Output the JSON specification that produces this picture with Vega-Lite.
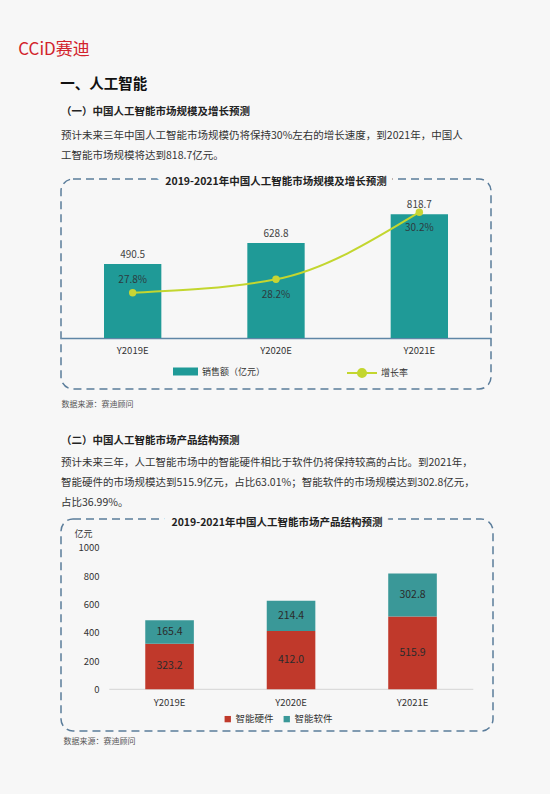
{
  "$schema": "https://vega.github.io/schema/vega-lite/v6.json",
  "background": "#f7f7f7",
  "padding": {"left": 18, "top": 40, "right": 60, "bottom": 60},
  "config": {
    "font": "Noto Sans CJK SC",
    "view": {"stroke": "#5b7d9b", "strokeDash": [8, 5], "strokeWidth": 1.5, "cornerRadius": 12},
    "axis": {"labelFont": "Noto Sans CJK SC", "titleFont": "Noto Sans CJK SC"},
    "legend": {"labelFont": "Noto Sans CJK SC"},
    "title": {"font": "Noto Sans CJK SC", "subtitleFont": "Noto Sans CJK SC"}
  },
  "title": {"text": "CCiD赛迪", "anchor": "start", "dx": -42, "fontSize": 17, "fontWeight": "normal", "color": "#d2232c", "offset": 18},
  "vconcat": [
    {
      "title": {"text": "一、人工智能", "anchor": "start", "fontSize": 14.5, "fontWeight": "bold", "color": "#111111", "offset": 14},
      "spacing": 26,
      "vconcat": [
        {
          "width": 430,
          "height": 210,
          "title": {
            "text": "（一）中国人工智能市场规模及增长预测",
            "subtitle": ["预计未来三年中国人工智能市场规模仍将保持30%左右的增长速度，到2021年，中国人", "工智能市场规模将达到818.7亿元。"],
            "anchor": "start", "fontSize": 10.5, "fontWeight": "bold", "color": "#222222",
            "subtitleFontSize": 10.5, "subtitleColor": "#333333", "subtitleLineHeight": 20, "subtitlePadding": 13, "offset": 16
          },
          "data": {"values": [
            {"year": "Y2019E", "sales": 490.5, "growth": 0.278},
            {"year": "Y2020E", "sales": 628.8, "growth": 0.282},
            {"year": "Y2021E", "sales": 818.7, "growth": 0.302}
          ]},
          "encoding": {
            "x": {"field": "year", "type": "nominal", "scale": {"paddingInner": 0.6, "paddingOuter": 0.3},
              "axis": {"offset": -51, "domainColor": "#5f86a6", "domainWidth": 1.3, "ticks": false, "labelAngle": 0, "labelFontSize": 9.5, "labelColor": "#333333", "labelPadding": 7,
                "title": "数据来源：赛迪顾问", "titleFontSize": 8, "titleFontWeight": "normal", "titleColor": "#555555", "titleX": 0, "titleY": 66, "titleAlign": "left", "titleBaseline": "middle"}}
          },
          "layer": [
            {
              "layer": [
                {
                  "mark": {"type": "bar"},
                  "encoding": {
                    "y": {"field": "sales", "type": "quantitative", "scale": {"domain": [-338, 1053], "nice": false}, "axis": null},
                    "fill": {"datum": "销售额（亿元）", "scale": {"range": ["#1f9a97"]},
                      "legend": {"orient": "none", "legendX": 112, "legendY": 180, "title": null, "symbolType": "M-1,-0.32H1V0.32H-1Z", "symbolSize": 625, "symbolStrokeWidth": 0, "labelFontSize": 9, "labelColor": "#333333", "labelOffset": 4}}
                  }
                },
                {
                  "mark": {"type": "text", "dy": -9, "fontSize": 10, "color": "#444444"},
                  "encoding": {
                    "y": {"field": "sales", "type": "quantitative"},
                    "text": {"field": "sales", "type": "quantitative", "format": ".1f"}
                  }
                },
                {
                  "data": {"values": [{"t": "2019-2021年中国人工智能市场规模及增长预测"}]},
                  "mark": {"type": "text", "fontSize": 10.5, "fontWeight": "bold", "stroke": "#f7f7f7", "strokeWidth": 12, "fill": "#f7f7f7", "baseline": "middle", "dy": 3},
                  "encoding": {"x": {"datum": "Y2020E"}, "y": {"datum": 1053}, "text": {"field": "t"}}
                },
                {
                  "data": {"values": [{"t": "2019-2021年中国人工智能市场规模及增长预测"}]},
                  "mark": {"type": "text", "fontSize": 10.5, "fontWeight": "bold", "color": "#222222", "baseline": "middle", "dy": 3},
                  "encoding": {"x": {"datum": "Y2020E"}, "y": {"datum": 1053}, "text": {"field": "t"}}
                }
              ]
            },
            {
              "encoding": {"y": {"field": "growth", "type": "quantitative", "scale": {"domain": [0.2493, 0.3119], "nice": false, "zero": false}, "axis": null}},
              "layer": [
                {
                  "mark": {"type": "line", "interpolate": "monotone", "strokeWidth": 2},
                  "encoding": {"stroke": {"datum": "增长率", "scale": {"range": ["#c3d62f"]},
                    "legend": {"orient": "none", "legendX": 285, "legendY": 178, "title": null, "symbolType": "M-1,0H1M0.27,0A0.27,0.27 0 1 1 -0.27,0A0.27,0.27 0 1 1 0.27,0Z", "symbolSize": 900, "symbolStrokeWidth": 2, "symbolFillColor": "#c3d62f", "labelFontSize": 9, "labelColor": "#333333", "labelOffset": 3}}}
                },
                {"mark": {"type": "point", "filled": true, "size": 55, "color": "#c8d534", "opacity": 1}, "encoding": {}},
                {
                  "transform": [{"filter": "datum.year == 'Y2019E'"}],
                  "mark": {"type": "text", "dy": -13, "fontSize": 10, "color": "#2d3b40"},
                  "encoding": {"text": {"field": "growth", "type": "quantitative", "format": ".1%"}}
                },
                {
                  "transform": [{"filter": "datum.year != 'Y2019E'"}],
                  "mark": {"type": "text", "dy": 16, "fontSize": 10, "color": "#2d3b40"},
                  "encoding": {"text": {"field": "growth", "type": "quantitative", "format": ".1%"}}
                }
              ]
            }
          ],
          "resolve": {"scale": {"y": "independent"}}
        },
        {
          "width": 432,
          "height": 212,
          "title": {
            "text": "（二）中国人工智能市场产品结构预测",
            "subtitle": ["预计未来三年，人工智能市场中的智能硬件相比于软件仍将保持较高的占比。到2021年，", "智能硬件的市场规模达到515.9亿元，占比63.01%；智能软件的市场规模达到302.8亿元，", "占比36.99%。"],
            "anchor": "start", "fontSize": 10.5, "fontWeight": "bold", "color": "#222222",
            "subtitleFontSize": 10.5, "subtitleColor": "#333333", "subtitleLineHeight": 20, "subtitlePadding": 11, "offset": 10
          },
          "data": {"values": [
            {"year": "Y2019E", "type": "智能硬件", "value": 323.2},
            {"year": "Y2019E", "type": "智能软件", "value": 165.4},
            {"year": "Y2020E", "type": "智能硬件", "value": 412.0},
            {"year": "Y2020E", "type": "智能软件", "value": 214.4},
            {"year": "Y2021E", "type": "智能硬件", "value": 515.9},
            {"year": "Y2021E", "type": "智能软件", "value": 302.8}
          ]},
          "encoding": {
            "x": {"field": "year", "type": "nominal", "scale": {"paddingInner": 0.6, "paddingOuter": 0.578, "align": 0.6},
              "axis": {"offset": -42, "domain": false, "ticks": false, "labelAngle": 0, "labelFontSize": 9.5, "labelColor": "#333333", "labelPadding": 8,
                "title": "数据来源：赛迪顾问", "titleFontSize": 8, "titleFontWeight": "normal", "titleColor": "#555555", "titleX": 2, "titleY": 52, "titleAlign": "left", "titleBaseline": "middle"}}
          },
          "layer": [
            {
              "data": {"values": [{"t": "base"}]},
              "mark": {"type": "rule", "color": "#d4d4d4", "strokeWidth": 1},
              "encoding": {"x": {"datum": "Y2019E", "bandPosition": -0.74}, "x2": {"datum": "Y2021E", "bandPosition": 1.75}, "y": {"datum": 0, "type": "quantitative", "scale": {"domain": [-295, 1205], "nice": false}}}
            },
            {
              "mark": {"type": "bar"},
              "encoding": {
                "y": {"field": "value", "type": "quantitative", "stack": "zero", "scale": {"domain": [-295, 1205], "nice": false},
                  "axis": {"values": [0, 200, 400, 600, 800, 1000], "format": "d", "offset": -44, "domain": false, "ticks": false, "grid": false, "labelFontSize": 9.5, "labelColor": "#333333", "labelPadding": 6,
                    "title": "亿元", "titleAngle": 0, "titleX": -22, "titleY": 14, "titleAlign": "center", "titleBaseline": "middle", "titleFontSize": 9, "titleFontWeight": "normal", "titleColor": "#333333"}},
                "color": {"field": "type", "type": "nominal", "scale": {"domain": ["智能硬件", "智能软件"], "range": ["#c0392b", "#3a9898"]},
                  "legend": {"orient": "none", "legendX": 162, "legendY": 535, "direction": "horizontal", "title": null, "symbolType": "square", "symbolSize": 40, "labelFontSize": 9.5, "labelColor": "#333333", "columnPadding": 8, "labelOffset": 3}},
                "order": {"field": "type", "sort": "ascending"}
              }
            },
            {
              "mark": {"type": "text", "fontSize": 10.5, "color": "#2b2b2b"},
              "encoding": {
                "y": {"field": "value", "type": "quantitative", "stack": "zero", "bandPosition": 0.5},
                "detail": {"field": "type"},
                "order": {"field": "type", "sort": "ascending"},
                "text": {"field": "value", "type": "quantitative", "format": ".1f"}
              }
            },
            {
              "data": {"values": [{"t": "2019-2021年中国人工智能市场产品结构预测"}]},
              "mark": {"type": "text", "fontSize": 10.5, "fontWeight": "bold", "stroke": "#f7f7f7", "strokeWidth": 12, "fill": "#f7f7f7", "baseline": "middle", "dy": 4},
              "encoding": {"x": {"datum": "Y2020E", "bandPosition": 0.21}, "y": {"datum": 1205, "type": "quantitative"}, "text": {"field": "t"}}
            },
            {
              "data": {"values": [{"t": "2019-2021年中国人工智能市场产品结构预测"}]},
              "mark": {"type": "text", "fontSize": 10.5, "fontWeight": "bold", "color": "#222222", "baseline": "middle", "dy": 4},
              "encoding": {"x": {"datum": "Y2020E", "bandPosition": 0.21}, "y": {"datum": 1205, "type": "quantitative"}, "text": {"field": "t"}}
            }
          ]
        }
      ]
    }
  ]
}
